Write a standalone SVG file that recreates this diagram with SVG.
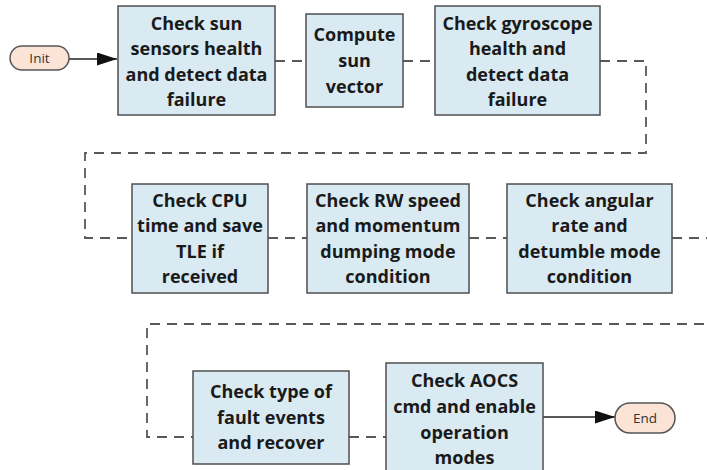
<svg xmlns="http://www.w3.org/2000/svg" width="707" height="470" viewBox="0 0 707 470">
  <style>
    .box { fill: #d9eaf2; stroke: #4f4f4f; stroke-width: 1.5; }
    .term { fill: #fbe4d5; stroke: #555555; stroke-width: 1.5; }
    .lbl { font-family: "Open Sans", "Liberation Sans", sans-serif; font-weight: 700; font-size: 18px; fill: #1a1a1a; text-anchor: middle; }
    .tlbl { font-family: "Open Sans", "Liberation Sans", sans-serif; font-size: 13.5px; fill: #333333; text-anchor: middle; }
    .dash { fill: none; stroke: #595959; stroke-width: 1.8; stroke-dasharray: 10 7; }
    .solid { fill: none; stroke: #222222; stroke-width: 1.3; }
  </style>
  <defs>
    <marker id="arrow" markerWidth="20" markerHeight="13" refX="20" refY="6.5" orient="auto" markerUnits="userSpaceOnUse">
      <path d="M0,0 L20,6.5 L0,13 Z" fill="#111111"/>
    </marker>
  </defs>
  <rect width="707" height="470" fill="#ffffff"/>

  <!-- connectors -->
  <g id="connectors">
    <path class="solid" d="M69,59 H117" marker-end="url(#arrow)"/>
    <path class="dash" d="M275,61 H306"/>
    <path class="dash" d="M403,61 H435"/>
    <path class="dash" d="M600,61 H646 V153 H85 V238 H132"/>
    <path class="dash" d="M268,238 H307"/>
    <path class="dash" d="M469,238 H507"/>
    <path class="dash" d="M672,238 H730 V324 H147 V437 H193"/>
    <path class="dash" d="M349,437 H386"/>
    <path class="solid" d="M543,417 H615" marker-end="url(#arrow)"/>
  </g>

  <!-- terminals -->
  <g id="init">
    <rect class="term" x="10" y="46" width="59" height="24" rx="12"/>
    <text class="tlbl" x="39.5" y="63">Init</text>
  </g>
  <g id="end">
    <rect class="term" x="615" y="403" width="60" height="30" rx="15"/>
    <text class="tlbl" x="645" y="423">End</text>
  </g>

  <!-- row 1 -->
  <g id="sun-sensors">
    <rect class="box" x="118" y="6" width="157" height="109"/>
    <text class="lbl" x="196.5" y="29.5">Check sun</text>
    <text class="lbl" x="196.5" y="55">sensors health</text>
    <text class="lbl" x="196.5" y="80.5">and detect data</text>
    <text class="lbl" x="196.5" y="106">failure</text>
  </g>
  <g id="sun-vector">
    <rect class="box" x="306" y="14" width="97" height="93"/>
    <text class="lbl" x="354.5" y="41">Compute</text>
    <text class="lbl" x="354.5" y="67">sun</text>
    <text class="lbl" x="354.5" y="93">vector</text>
  </g>
  <g id="gyroscope">
    <rect class="box" x="435" y="6" width="165" height="109"/>
    <text class="lbl" x="517.5" y="29.5">Check gyroscope</text>
    <text class="lbl" x="517.5" y="55">health and</text>
    <text class="lbl" x="517.5" y="80.5">detect data</text>
    <text class="lbl" x="517.5" y="106">failure</text>
  </g>

  <!-- row 2 -->
  <g id="cpu-time">
    <rect class="box" x="132" y="184" width="136" height="109"/>
    <text class="lbl" x="200" y="206.5">Check CPU</text>
    <text class="lbl" x="200" y="232">time and save</text>
    <text class="lbl" x="200" y="257.5">TLE if</text>
    <text class="lbl" x="200" y="283">received</text>
  </g>
  <g id="rw-speed">
    <rect class="box" x="307" y="184" width="162" height="109"/>
    <text class="lbl" x="388" y="206.5">Check RW speed</text>
    <text class="lbl" x="388" y="232">and momentum</text>
    <text class="lbl" x="388" y="257.5">dumping mode</text>
    <text class="lbl" x="388" y="283">condition</text>
  </g>
  <g id="angular-rate">
    <rect class="box" x="507" y="184" width="165" height="109"/>
    <text class="lbl" x="589.5" y="206.5">Check angular</text>
    <text class="lbl" x="589.5" y="232">rate and</text>
    <text class="lbl" x="589.5" y="257.5">detumble mode</text>
    <text class="lbl" x="589.5" y="283">condition</text>
  </g>

  <!-- row 3 -->
  <g id="fault-events">
    <rect class="box" x="193" y="371" width="156" height="93"/>
    <text class="lbl" x="271" y="398">Check type of</text>
    <text class="lbl" x="271" y="423.5">fault events</text>
    <text class="lbl" x="271" y="449">and recover</text>
  </g>
  <g id="aocs-cmd">
    <rect class="box" x="386" y="363" width="157" height="115"/>
    <text class="lbl" x="464.5" y="387">Check AOCS</text>
    <text class="lbl" x="464.5" y="413">cmd and enable</text>
    <text class="lbl" x="464.5" y="439">operation</text>
    <text class="lbl" x="464.5" y="464">modes</text>
  </g>
</svg>
